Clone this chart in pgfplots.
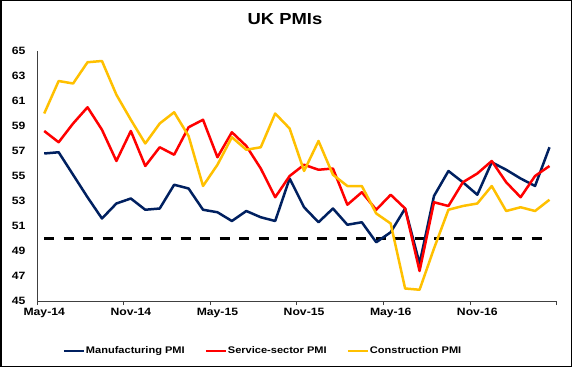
\documentclass[border=0pt]{standalone}
\usepackage{fontspec}
\setmainfont{Liberation Sans}[FakeStretch=1.15]
\usepackage{pgfplots}
\pgfplotsset{compat=1.18}
\definecolor{navy}{HTML}{002060}
\definecolor{pmired}{HTML}{FF0000}
\definecolor{pmigold}{HTML}{FFC000}
\begin{document}
\begin{tikzpicture}[x=1pt,y=1pt]
\path[use as bounding box] (0,0) rectangle (572,367);
\draw[line width=1.5pt] (0.75,0.75) rectangle (571.25,366.25);
\node[font=\bfseries\fontsize{16}{19}\selectfont] at (285,348) {UK PMIs};
\begin{axis}[
  at={(37pt,66pt)}, anchor=south west,
  scale only axis, width=519.7pt, height=250pt,
  xmin=-0.5, xmax=35.5, ymin=45, ymax=65,
  axis x line=bottom, axis y line=left,
  axis line style={black!75, line width=0.8pt, -},
  xtick={-0.5,5.5,11.5,17.5,23.5,29.5,35.5},
  xticklabels={},
  extra x ticks={0,6,12,18,24,30},
  extra x tick labels={May-14,Nov-14,May-15,Nov-15,May-16,Nov-16},
  extra x tick style={major tick length=0pt},
  tick align=outside,
  major tick length=4pt,
  x tick style={black!75, line width=0.8pt},
  ytick={45,47,...,65},
  y tick style={draw=none},
  tick label style={font=\bfseries\fontsize{10.6}{12}\selectfont},
  yticklabel style={xshift=-4pt},
  xticklabel style={yshift=-3.5pt},
  /pgf/number format/assume math mode=true,
  legend style={at={(0.434,-0.2)}, anchor=center, draw=none, legend columns=3,
    font=\bfseries\fontsize{9.6}{11}\selectfont,
    nodes={inner sep=1pt},
    /tikz/every even column/.append style={column sep=19pt}},
  legend image code/.code={\draw[#1, line width=2.2pt] (0pt,0pt) -- (20pt,0pt);},
  clip=false
]
\addplot[black, line width=2.5pt, dash pattern=on 10pt off 9.5pt, forget plot] coordinates {(0,50) (35,50)};
\addplot[navy, line width=2.5pt, line join=round] coordinates {
(0,56.8) (1,56.9) (2,55.1) (3,53.3) (4,51.6) (5,52.8) (6,53.2) (7,52.3) (8,52.4) (9,54.3)
(10,54.0) (11,52.3) (12,52.1) (13,51.4) (14,52.2) (15,51.7) (16,51.4) (17,54.8) (18,52.5) (19,51.3)
(20,52.4) (21,51.1) (22,51.3) (23,49.7) (24,50.5) (25,52.4) (26,48.0) (27,53.4) (28,55.4) (29,54.5)
(30,53.5) (31,56.1) (32,55.5) (33,54.8) (34,54.2) (35,57.3)};
\addlegendentry{Manufacturing PMI}
\addplot[pmired, line width=2.5pt, line join=round] coordinates {
(0,58.6) (1,57.7) (2,59.2) (3,60.5) (4,58.7) (5,56.2) (6,58.6) (7,55.8) (8,57.3) (9,56.7)
(10,58.9) (11,59.5) (12,56.5) (13,58.5) (14,57.4) (15,55.6) (16,53.3) (17,55.0) (18,55.9) (19,55.5)
(20,55.6) (21,52.7) (22,53.7) (23,52.3) (24,53.5) (25,52.4) (26,47.4) (27,52.9) (28,52.6) (29,54.5)
(30,55.2) (31,56.2) (32,54.5) (33,53.3) (34,55.0) (35,55.8)};
\addlegendentry{Service-sector PMI}
\addplot[pmigold, line width=2.5pt, line join=round] coordinates {
(0,60.0) (1,62.6) (2,62.4) (3,64.1) (4,64.2) (5,61.5) (6,59.5) (7,57.6) (8,59.2) (9,60.1)
(10,58.2) (11,54.2) (12,55.9) (13,58.1) (14,57.1) (15,57.3) (16,60.0) (17,58.8) (18,55.4) (19,57.8)
(20,55.1) (21,54.2) (22,54.2) (23,52.0) (24,51.2) (25,46.0) (26,45.9) (27,49.2) (28,52.3) (29,52.6)
(30,52.8) (31,54.2) (32,52.2) (33,52.5) (34,52.2) (35,53.1)};
\addlegendentry{Construction PMI}
\end{axis}
\end{tikzpicture}
\end{document}
